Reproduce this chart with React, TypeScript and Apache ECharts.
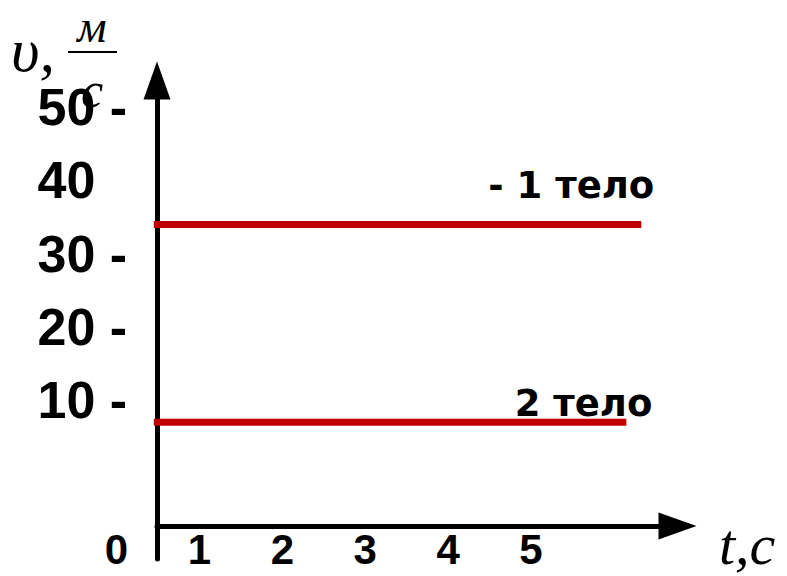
import React, { useEffect, useRef } from 'react';
import * as echarts from 'echarts';

// ---- data ----
const tTicks = [0, 1, 2, 3, 4, 5];
const vTicks = [10, 20, 30, 40, 50];
const vTickLabels = ['10 -', '20 -', '30 -', '40', '50 -'];
const bodyLabels = ['- 1 тело', '2 тело'];
const bodySpeeds = [34, 7];
const bodyStart = [0.45, 0.45];
const bodyEnd = [6.33, 6.15];
const xAxisTitle = 't,с';
const yAxisTitle = 'υ,';
const yUnitTop = 'м';
const yUnitBottom = 'с';

const RED = '#C00000';
const BLACK = '#000000';

export default function App() {
  const ref = useRef<HTMLDivElement>(null);

  useEffect(() => {
    const chart = echarts.init(ref.current!, null, { renderer: 'svg' });
    const labelOffsets = [
      [13, -39],
      [26, -19],
    ];
    const yMin = -11.67;
    const yMax = 53.65;
    const option: any = {
      animation: false,
      backgroundColor: '#ffffff',
      grid: [
        { left: 116.5, right: 109.5, top: 80.5, bottom: 17, containLabel: false },
        { left: 157, right: 109.5, top: 80.5, bottom: 17, containLabel: false },
      ],
      xAxis: [
        {
          type: 'value',
          gridIndex: 0,
          min: 0,
          max: 6.767,
          position: 'bottom',
          offset: -33,
          axisLine: { show: false, onZero: false },
          axisTick: { show: false },
          splitLine: { show: false },
          axisLabel: {
            customValues: tTicks,
            formatter: (v: number) => String(v),
            fontFamily: '"Liberation Sans", Arial, sans-serif',
            fontWeight: 'bold',
            fontSize: 42,
            color: BLACK,
            margin: 2,
          },
        },
        {
          type: 'value',
          gridIndex: 1,
          min: 0.4885,
          max: 6.767,
          position: 'bottom',
          offset: -33,
          axisLine: {
            show: true,
            onZero: false,
            symbol: ['none', 'triangle'],
            symbolSize: [27, 38],
            lineStyle: { color: BLACK, width: 5 },
          },
          axisTick: { show: false },
          splitLine: { show: false },
          axisLabel: { show: false },
        },
      ],
      yAxis: [
        {
          type: 'value',
          gridIndex: 0,
          min: yMin,
          max: yMax,
          position: 'left',
          axisLine: { show: false, onZero: false },
          axisTick: { show: false },
          splitLine: { show: false },
          axisLabel: {
            customValues: vTicks,
            formatter: (v: number) => vTickLabels[vTicks.indexOf(v)] ?? '',
            align: 'left',
            margin: 79,
            fontFamily: '"Liberation Sans", Arial, sans-serif',
            fontWeight: 'bold',
            fontSize: 52,
            color: BLACK,
          },
        },
        {
          type: 'value',
          gridIndex: 1,
          min: yMin,
          max: yMax,
          position: 'left',
          axisLine: {
            show: true,
            onZero: false,
            symbol: ['none', 'triangle'],
            symbolSize: [27, 38],
            lineStyle: { color: BLACK, width: 5 },
          },
          axisTick: { show: false },
          splitLine: { show: false },
          axisLabel: { show: false },
        },
      ],
      series: bodyLabels.map((name, i) => ({
        type: 'line',
        name,
        xAxisIndex: 0,
        yAxisIndex: 0,
        symbol: 'none',
        data: [
          [bodyStart[i], bodySpeeds[i]],
          [bodyEnd[i], bodySpeeds[i]],
        ],
        lineStyle: { color: RED, width: 7, cap: 'butt' },
        itemStyle: { color: RED },
        z: 5,
        endLabel: {
          show: true,
          formatter: name,
          distance: 0,
          align: 'right',
          verticalAlign: 'middle',
          offset: labelOffsets[i],
          fontFamily: '"DejaVu Sans", sans-serif',
          fontWeight: 'bold',
          fontSize: 37,
          color: BLACK,
        },
      })),
      graphic: [
        {
          type: 'text',
          x: 11,
          y: 50,
          style: {
            text: yAxisTitle,
            font: 'italic 62px "Liberation Serif", serif',
            lineHeight: 50,
            fill: BLACK,
            align: 'left',
            verticalAlign: 'middle',
            textAlign: 'left',
            textVerticalAlign: 'middle',
          },
        },
        {
          type: 'text',
          x: 92,
          y: 26,
          style: {
            text: yUnitTop,
            font: 'italic 46px "Liberation Serif", serif',
            lineHeight: 30,
            fill: BLACK,
            align: 'center',
            verticalAlign: 'middle',
            textAlign: 'center',
            textVerticalAlign: 'middle',
          },
        },
        {
          type: 'line',
          shape: { x1: 68, y1: 52, x2: 117, y2: 52 },
          style: { stroke: BLACK, lineWidth: 2 },
        },
        {
          type: 'text',
          x: 92,
          y: 90,
          z: 10,
          style: {
            text: yUnitBottom,
            font: 'italic 50px "Liberation Serif", serif',
            lineHeight: 30,
            fill: BLACK,
            align: 'center',
            verticalAlign: 'middle',
            textAlign: 'center',
            textVerticalAlign: 'middle',
          },
        },
        {
          type: 'text',
          x: 719,
          y: 544,
          style: {
            text: xAxisTitle,
            font: 'italic 58px "Liberation Serif", serif',
            lineHeight: 50,
            fill: BLACK,
            align: 'left',
            verticalAlign: 'middle',
            textAlign: 'left',
            textVerticalAlign: 'middle',
          },
        },
      ],
    };
    chart.setOption(option);
    return () => chart.dispose();
  }, []);

  return (
    <div
      ref={ref}
      style={{ position: 'fixed', left: 0, top: 0, width: 787, height: 576, background: '#fff' }}
    />
  );
}
